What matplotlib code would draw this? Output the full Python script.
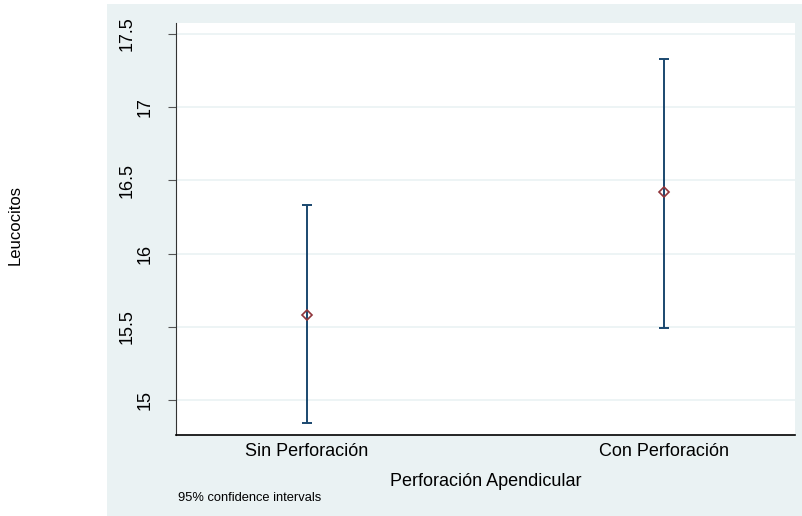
import matplotlib.pyplot as plt
from matplotlib.patches import Rectangle
from matplotlib.transforms import ScaledTranslation

# datos (medias e IC 95%)
grupos = ['Sin Perforación', 'Con Perforación']
medias = [15.58, 16.42]
ic_inf = [14.84, 15.49]
ic_sup = [16.33, 17.33]
yticks = [15, 15.5, 16, 16.5, 17, 17.5]
ytick_labels = ['15', '15.5', '16', '16.5', '17', '17.5']

plt.rcParams['font.family'] = ['Liberation Sans', 'DejaVu Sans']
fondo = '#EAF2F3'
azul = '#1A476F'
rojo = '#90353B'

fig = plt.figure(figsize=(8.03, 5.16), dpi=100)
W, H = 803, 516
# fondo gris azulado (estilo Stata), deja franja blanca a la izquierda
fig.patches.append(Rectangle((107 / W, 0), 1 - 107 / W, 1 - 4 / H,
                             transform=fig.transFigure, facecolor=fondo,
                             edgecolor='none', zorder=-10))

ax = fig.add_axes([176 / W, 1 - 435 / H, (795 - 176) / W, (435 - 23) / H])
ax.set_facecolor('white')

x = list(range(len(grupos)))
for i in x:
    ax.vlines(i, ic_inf[i], ic_sup[i], color=azul, lw=1.4, zorder=3)
    ax.hlines([ic_inf[i], ic_sup[i]], i - 0.013, i + 0.013, color=azul, lw=1.4, zorder=3)
ax.plot(x, medias, ls='none', marker='D', ms=5.5, mfc='none', mec=rojo, mew=1.2, zorder=4)

ax.set_xlim(-0.367, 1.367)
ax.set_ylim(14.76, 17.575)
ax.set_xticks(x)
ax.set_xticklabels(grupos, fontsize=13)
ax.set_yticks(yticks)
ax.set_yticklabels([])
ax.grid(axis='y', color=fondo, lw=1.2)
ax.set_axisbelow(True)

# etiquetas del eje y giradas (las de ".5" quedan mas a la izquierda, como en Stata)
for val, lab in zip(yticks, ytick_labels):
    dx = -40 if '.' in lab else -22
    tr = ax.get_yaxis_transform() + ScaledTranslation(dx / 100, 0, fig.dpi_scale_trans)
    ax.text(0, val, lab, transform=tr, rotation=90, ha='right', va='center',
            fontsize=13, clip_on=False)

for s in ['top', 'right']:
    ax.spines[s].set_visible(False)
ax.spines['left'].set_color('#333333')
ax.spines['bottom'].set_color('black')
ax.spines['bottom'].set_linewidth(1.2)
ax.tick_params(axis='y', length=6, color='#555555')
ax.tick_params(axis='x', length=0, pad=6)

ax.set_xlabel('Perforación Apendicular', fontsize=13, labelpad=9)
fig.text(15 / W, 1 - 225 / H, 'Leucocitos', rotation=90, fontsize=12,
         ha='center', va='center')
fig.text(178 / W, 1 - 498 / H, '95% confidence intervals', fontsize=9.3,
         ha='left', va='center')

fig.savefig('out.png', dpi=100)
